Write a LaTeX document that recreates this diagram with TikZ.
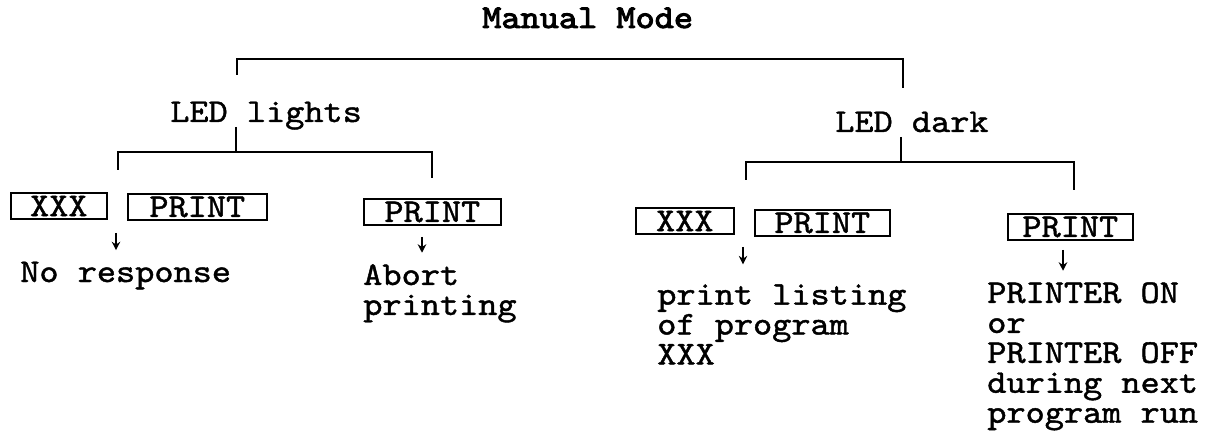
\documentclass[tikz,border=0pt]{standalone}
\usepackage{fontspec}
\newfontfamily\typew{lmmono10-regular.otf}[FakeBold=1.3,FakeStretch=1.1]
\newfontfamily\typewb{lmmono10-regular.otf}[FakeBold=3,FakeStretch=1.1]
\usetikzlibrary{arrows.meta}
\setlength{\lineskiplimit}{-100pt}
\begin{document}
\begin{tikzpicture}[x=0.025cm,y=-0.025cm,
  txt/.style={font=\fontsize{23.6}{21.3}\selectfont\typew, inner sep=0pt, anchor=base west, align=left},
  lines/.style={txt, anchor=north west},
  key/.style={draw, line width=1.1pt, inner sep=0pt, anchor=north west, minimum height=0.66cm, font=\fontsize{23.6}{21.3}\selectfont\typew},
  tree/.style={line width=1.2pt},
  dn/.style={line width=1pt, -{Stealth[length=6pt,width=6pt]}, shorten >=8pt}]

\useasboundingbox (0,0) rectangle (1205,439);

\node[txt, font=\fontsize{23.6}{21.3}\selectfont\typewb] (title) at (482,28) {Manual Mode};
\node[txt] (lights) at (170,122) {LED lights};
\node[txt] (dark) at (835,132) {LED dark};

% top level
\coordinate (mm-l) at (237,75); \coordinate (mm-r) at (903,88); \coordinate (mm-j) at (0,59);
\draw[tree] (mm-l) |- (mm-r |- mm-j) -- (mm-r);

% LED lights
\coordinate (li-t) at (236,127); \coordinate (li-j) at (236,152);
\coordinate (li-l) at (118,170); \coordinate (li-r) at (432,178);
\draw[tree] (li-t) -- (li-j);
\draw[tree] (li-l) |- (li-r |- li-j) -- (li-r);

% LED dark
\coordinate (dk-t) at (901,137); \coordinate (dk-j) at (901,162);
\coordinate (dk-l) at (746,180); \coordinate (dk-r) at (1074,190);
\draw[tree] (dk-t) -- (dk-j);
\draw[tree] (dk-l) |- (dk-r |- dk-j) -- (dk-r);

\node[key, minimum width=2.4cm] (xxxA) at (10,192) {XXX};
\node[key, minimum width=3.475cm] (printA) at (127,193) {PRINT};
\node[key, minimum width=3.425cm] (printB) at (363,198) {PRINT};
\node[key, minimum width=2.45cm] (xxxC) at (635,207) {XXX};
\node[key, minimum width=3.375cm] (printC) at (754,209) {PRINT};
\node[key, minimum width=3.125cm] (printD) at (1007,213) {PRINT};

\node[txt] (resA) at (20,282) {No response};
\node[lines] (resB) at (363,264) {Abort\\printing};
\node[lines] (resC) at (657,284) {print listing\\of program\\XXX};
\node[lines] (resD) at (987,282) {PRINTER ON\\or\\PRINTER OFF\\during next\\program run};

\coordinate (a1) at (116,233); \coordinate (a2) at (422,237);
\coordinate (a3) at (743,247); \coordinate (a4) at (1063,250);
\draw[dn] (a1) -- (a1 |- resA.north);
\draw[dn] (a2) -- (a2 |- resB.north);
\draw[dn, shorten >=14pt] (a3) -- (a3 |- resC.north);
\draw[dn] (a4) -- (a4 |- resD.north);

\end{tikzpicture}
\end{document}
